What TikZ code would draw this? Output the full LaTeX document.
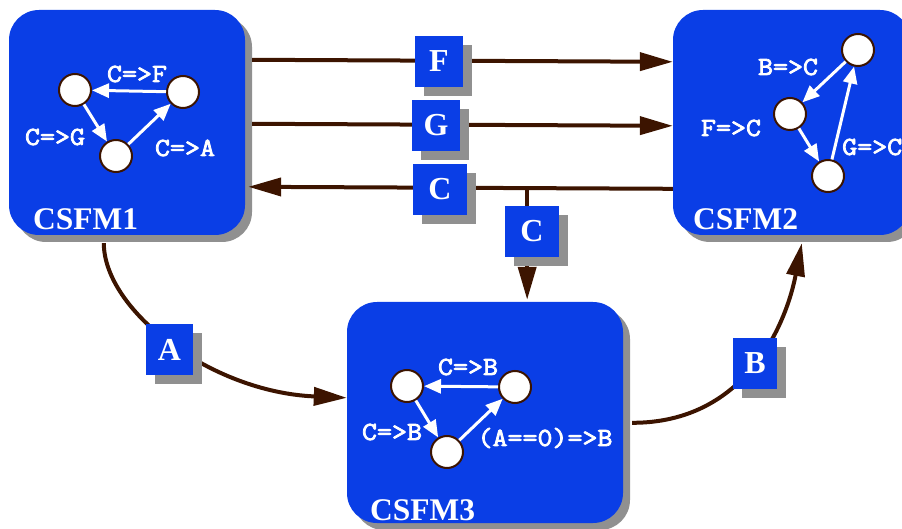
\documentclass[tikz,border=0pt]{standalone}
\usepackage{fontspec}
\setmainfont{Liberation Serif}
\newfontfamily\condfont{Latin Modern Mono}[FakeBold=3,FakeStretch=1.12]
\usetikzlibrary{arrows.meta,calc,shadows}
\definecolor{boxblue}{RGB}{10,62,230}
\definecolor{shade}{RGB}{144,144,144}
\definecolor{wire}{RGB}{60,20,0}

\begin{document}
\begin{tikzpicture}[x=1pt,y=-1pt,
  machine/.style={rectangle, rounded corners=30pt, fill=boxblue, draw=none,
    inner sep=0pt,
    drop shadow={shadow xshift=7pt, shadow yshift=-7pt, fill=shade, opacity=1}},
  mname/.style={anchor=base west, inner sep=0pt, text=white,
    font=\bfseries\fontsize{31.5}{31.5}\selectfont},
  tag/.style={rectangle, fill=boxblue, text=white, inner sep=0pt,
    minimum height=51pt, font=\bfseries\fontsize{32}{32}\selectfont,
    drop shadow={shadow xshift=9pt, shadow yshift=-9pt, fill=shade, opacity=1}},
  conn/.style={draw=wire, line width=4pt, -{Triangle[length=33pt,width=18pt]}},
  state/.style={circle, fill=white, draw=wire, line width=2pt,
    minimum size=32pt, inner sep=0pt},
  trans/.style={draw=white, line width=3pt, -{Triangle[length=17pt,width=14pt]}},
  cond/.style={text=white, inner sep=0pt,
    font=\condfont\fontsize{26}{26}\selectfont}
]
\useasboundingbox (0,0) rectangle (902,529);
\clip (0,0) rectangle (902,529);

% machines
\node[machine, minimum width=236pt, minimum height=225pt] (cs1) at (127,122.5) {};
\node[machine, minimum width=237pt, minimum height=225pt] (cs2) at (791.5,122.5) {};
\node[machine, minimum width=276pt, minimum height=221pt] (cs3) at (485,412.5) {};

\node[mname] (n1) at (33,230) {CSFM1};
\node[mname] (n2) at (693,230) {CSFM2};
\node[mname] (n3) at (370,520) {CSFM3};

% CSFM1 state graph
\node[state] (p1) at (75,90) {};
\node[state] (p2) at (183,92) {};
\node[state] (p3) at (116,156) {};
\draw[trans] (p2) -- (p1);
\draw[trans] (p1) -- (p3);
\draw[trans] (p3) -- (p2);
\node[cond] (c1a) at (137,74) {C=>F};
\node[cond] (c1b) at (55,137) {C=>G};
\node[cond] (c1c) at (185,148) {C=>A};

% CSFM2 state graph
\node[state] (q1) at (858,50) {};
\node[state] (q2) at (790,114) {};
\node[state] (q3) at (828,176) {};
\draw[trans] (q1) -- (q2);
\draw[trans] (q2) -- (q3);
\draw[trans] (q3) -- (q1);
\node[cond] (c2a) at (788,67) {B=>C};
\node[cond] (c2b) at (731,128) {F=>C};
\node[cond, anchor=west] (c2c) at (842,147) {G=>C};

% CSFM3 state graph
\node[state] (r1) at (407,386) {};
\node[state] (r2) at (515,387) {};
\node[state] (r3) at (447,452) {};
\draw[trans] (r2) -- (r1);
\draw[trans] (r1) -- (r3);
\draw[trans] (r3) -- (r2);
\node[cond] (c3a) at (468,367) {C=>B};
\node[cond] (c3b) at (392,432) {C=>B};
\node[cond] (c3c) at (545,438) {(A==0)=>B};

% signals between machines
\draw[conn] ($(cs1.north east)+(7,50)$) -- ($(cs2.north west)+(0,52)$);
\draw[conn] ($(cs1.north east)+(7,114)$) -- ($(cs2.north west)+(0,116)$);
\draw[conn] ($(cs2.north west)+(0,179)$) -- coordinate[pos=0.343] (j) ($(cs1.north east)+(3,177)$);
\draw[conn] (j) -- ($(j |- cs3.north)+(0,-2)$);
\draw[conn] ($(cs1.south west)+(95,8)$) .. controls (104,310) and (210,392) .. ($(cs3.north west)+(0,96)$);
\draw[conn] ($(cs3.north east)+(9,121)$) .. controls (745,423) and (786,325) .. ($(cs2.south west)+(129,8)$);

% signal tags
\node[tag, minimum width=48pt] (tF) at (439,61.5) {F};
\node[tag, minimum width=48pt] (tG) at (436,125.5) {G};
\node[tag, minimum width=54pt] (tC1) at (440,189.5) {C};
\node[tag, minimum width=54pt] (tC2) at (532,231.5) {C};
\node[tag, minimum width=47pt] (tA) at (169.5,349.5) {A};
\node[tag, minimum width=44pt] (tB) at (755,363.5) {B};
\end{tikzpicture}
\end{document}
